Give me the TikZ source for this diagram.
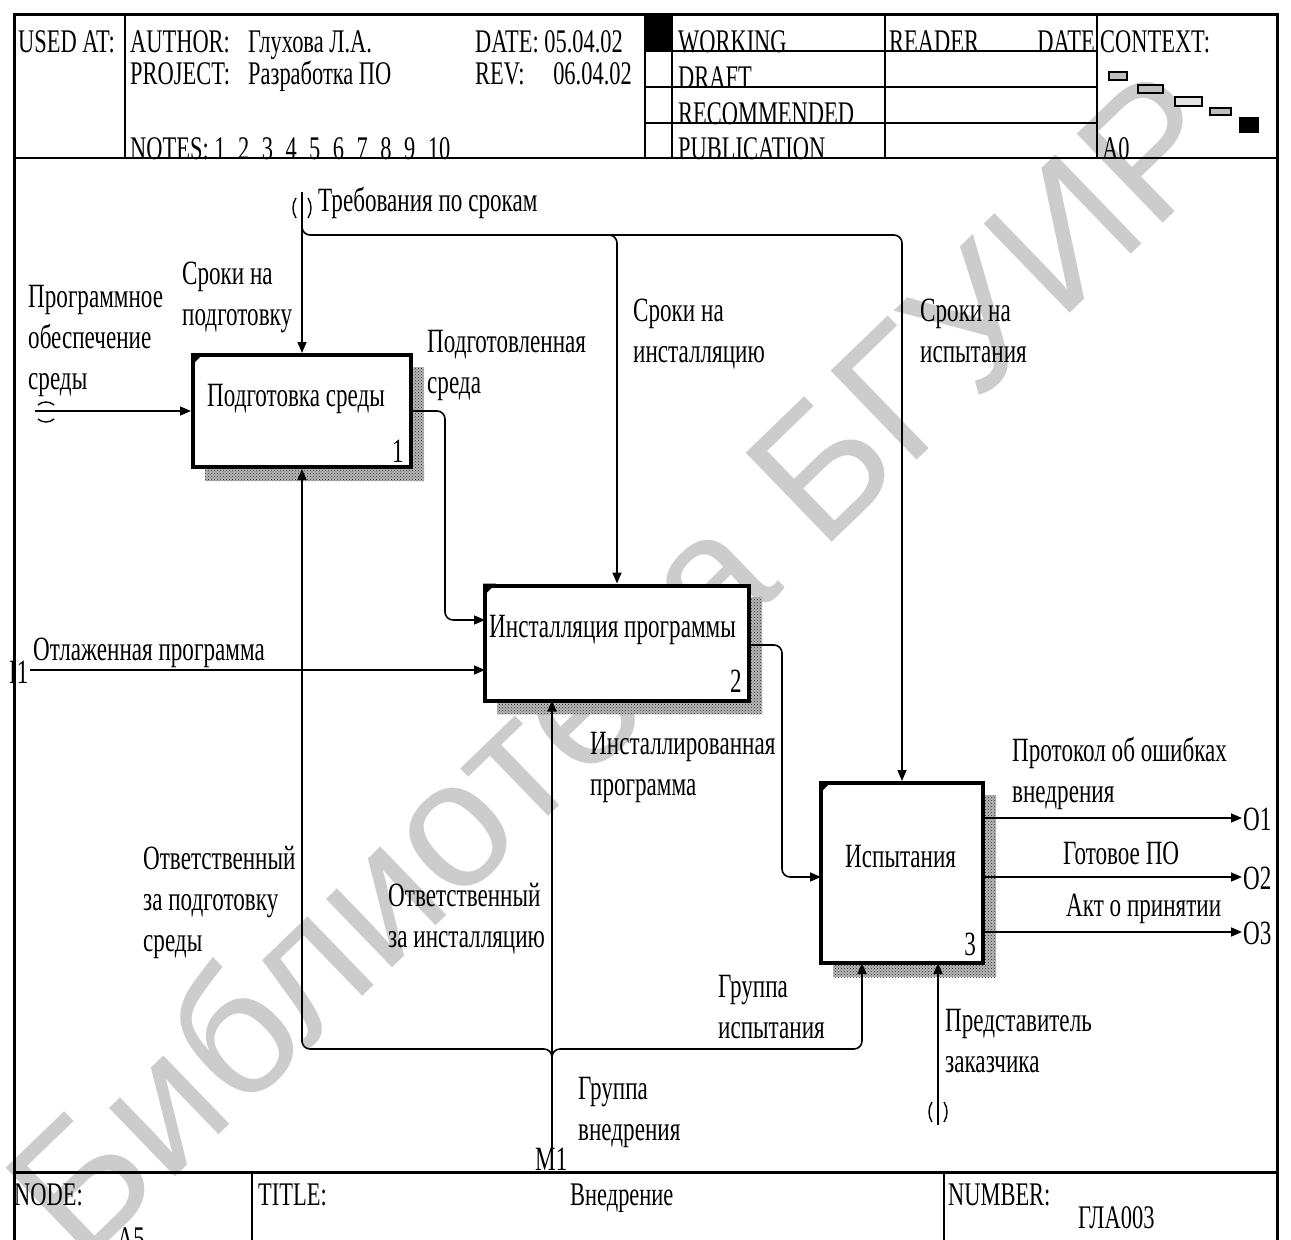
\documentclass[tikz,border=0pt]{standalone}
\usepackage{fontspec}
\setmainfont{Liberation Serif}[FakeStretch=0.68]
\newfontfamily\wmfont{Liberation Sans}
\usetikzlibrary{arrows.meta,patterns}
\newcommand\lblfont{\fontsize{34}{41}\selectfont}
\newcommand\hdrfont{\fontsize{33}{35}\selectfont}
\newcommand\nsp{\hspace{12.5pt}}
\begin{document}
\begin{tikzpicture}[x=1pt,y=-1pt,
  lbl/.style={anchor=base west,inner sep=0pt,align=left,font=\lblfont},
  hdr/.style={anchor=base west,inner sep=0pt,font=\hdrfont},
  idefbox/.style={draw,line width=4pt,fill=white,inner sep=0pt},
  conn/.style={line width=1.6pt,rounded corners=8pt},
  arr/.style={conn,-{Triangle[length=11pt,width=9pt]}},
  tunnel/.style={line width=1.4pt},
  shadowfill/.style={preaction={fill=black!28},pattern=crosshatch dots,pattern color=black!85},
  framel/.style={line width=2pt},
  wm/.style={font=\wmfont\fontsize{180}{180}\selectfont,text=black!20,rotate=44,inner sep=0pt}
]
\useasboundingbox (0,0) rectangle (1291,1240);
% watermark
\node[wm] (wmark) at (615,662) {Библиотека БГУИР};

% ---------- header texts ----------
\node[hdr] (usedat) at (18,52) {USED AT:};
\node[hdr] (author) at (130,52) {AUTHOR:};
\node[hdr] (authorv) at (248,52) {Глухова Л.А.};
\node[hdr] (project) at (130,84) {PROJECT:};
\node[hdr] (projectv) at (248,84) {Разработка ПО};
\node[hdr] (notes) at (130,159) {NOTES:\ 1\nsp2\nsp3\nsp4\nsp5\nsp6\nsp7\nsp8\nsp9\nsp10};
\node[hdr] (date) at (475,52) {DATE: 05.04.02};
\node[hdr] (rev) at (475,84) {REV:};
\node[hdr,anchor=base east] (revv) at (632,84) {06.04.02};
\node[hdr] (working) at (678,52) {WORKING};
\node[hdr] (draft) at (678,88) {DRAFT};
\node[hdr] (recom) at (678,124) {RECOMMENDED};
\node[hdr] (publ) at (678,159) {PUBLICATION};
\node[hdr] (reader) at (889,52) {READER};
\node[hdr,anchor=base east] (rdate) at (1095,52) {DATE};
\node[hdr] (context) at (1100,52) {CONTEXT:};
\node[hdr] (azero) at (1102,159) {A0};

% ---------- frame ----------
\draw[line width=3pt] (14,1240) -- (14,14) -- (1277,14) -- (1277,1240);
\draw[framel] (14,158) -- (1277,158);
\draw[framel] (125,14) -- (125,158);
\draw[framel] (645,14) -- (645,158);
\draw[framel] (672,14) -- (672,158);
\draw[framel] (885,14) -- (885,158);
\draw[framel] (1097,14) -- (1097,158);
\draw[framel] (645,51) -- (1097,51);
\draw[framel] (645,87) -- (1097,87);
\draw[framel] (645,123) -- (1097,123);
\fill (645,14) rectangle (672,51);
% context mini boxes
\draw[line width=1.5pt,fill=black!25] (1109,72) rectangle (1127,80);
\draw[line width=1.5pt,fill=black!25] (1138,85) rectangle (1163,93);
\draw[line width=1.5pt,fill=black!10] (1175,97) rectangle (1202,106);
\draw[line width=1.5pt,fill=black!25] (1210,108) rectangle (1231,115);
\fill (1239,117) rectangle (1259,133);

% footer
\draw[line width=3pt] (14,1172) -- (1277,1172);
\draw[framel] (252,1172) -- (252,1240);
\draw[framel] (944,1172) -- (944,1240);
\node[hdr] (nodet) at (14,1205) {NODE:};
\node[hdr] (nodev) at (117,1249) {A5};
\node[hdr] (titlet) at (258,1205) {TITLE:};
\node[hdr] (titlev) at (570,1205) {Внедрение};
\node[hdr] (numt) at (948,1205) {NUMBER:};
\node[hdr] (numv) at (1078,1228) {ГЛА003};

% ---------- shadows ----------
\fill[shadowfill] (411,367) rectangle (424,481);
\fill[shadowfill] (205,467) rectangle (424,481);
\fill[shadowfill] (749,597) rectangle (762,714);
\fill[shadowfill] (497,700) rectangle (762,714);
\fill[shadowfill] (983,795) rectangle (996,977);
\fill[shadowfill] (833,963) rectangle (996,977);

% ---------- boxes ----------
\node[idefbox,minimum width=218pt,minimum height=112pt] (b1) at (302,411) {};
\node[idefbox,minimum width=264pt,minimum height=115pt] (b2) at (617,643) {};
\node[idefbox,minimum width=162pt,minimum height=180pt] (b3) at (902,873) {};
\foreach \b in {b1,b2,b3}{
  \fill (\b.north west) -- ++(13,0) -- ++(-13,13) -- cycle;
}
\node[lbl] (b1t) at (207,406) {Подготовка среды};
\node[lbl] (b2t) at (489,637) {Инсталляция программы};
\node[lbl] (b3t) at (845,867) {Испытания};
\node[lbl,anchor=base east] (b1n) at (404,462) {1};
\node[lbl,anchor=base east] (b2n) at (742,692) {2};
\node[lbl,anchor=base east] (b3n) at (976,955) {3};

% ---------- coordinates ----------
\coordinate (ctop) at (302,192);
\coordinate (cbr) at (302,226);
\coordinate (c3c) at (902,235);
\coordinate (c2s) at (609,235);
\coordinate (iA) at (35,411);
\coordinate (b1ov) at (445,500);
\coordinate (b2i1) at (485,620);
\coordinate (i1) at (30,670);
\coordinate (b2i2) at (485,670);
\coordinate (b2o) at (749,645);
\coordinate (b2ov) at (782,760);
\coordinate (b3i) at (821,877);
\coordinate (b3o1) at (983,818);
\coordinate (b3o2) at (983,877);
\coordinate (b3o3) at (983,932);
\coordinate (o1) at (1242,818);
\coordinate (o2) at (1242,877);
\coordinate (o3) at (1242,932);
\coordinate (m1) at (552,1148);
\coordinate (b2m) at (552,700.5);
\coordinate (mbr) at (552,1058);
\coordinate (ml) at (302,1049);
\coordinate (mr) at (862,1049);
\coordinate (b3m1) at (862,963);
\coordinate (m2) at (938,1125);
\coordinate (b3m2) at (938,963);

% ---------- connectors ----------
\draw[arr] (ctop) -- (b1.north);
\draw[arr] (cbr) |- (c3c) -- (b3.north);
\draw[arr] (c2s) -| (b2.north);
\draw[arr] (iA) -- (b1.west);
\draw[arr] (b1.east) -| (b1ov) |- (b2i1);
\draw[arr] (i1) -- (b2i2);
\draw[arr] (b2o) -| (b2ov) |- (b3i);
\draw[arr] (b3o1) -- (o1);
\draw[arr] (b3o2) -- (o2);
\draw[arr] (b3o3) -- (o3);
\draw[arr] (m1) -- (b2m);
\draw[arr] (mbr) |- (ml) -- (b1.south);
\draw[arr] (mbr) |- (mr) -- (b3m1);
\draw[arr] (m2) -- (b3m2);

% tunnels
\draw[tunnel] (296,198) .. controls (292,204) and (292,212) .. (296,218);
\draw[tunnel] (308,198) .. controls (312,204) and (312,212) .. (308,218);
\draw[tunnel] (38,405) .. controls (42,401) and (50,401) .. (54,405);
\draw[tunnel] (38,419) .. controls (42,423) and (50,423) .. (54,419);
\draw[tunnel] (932,1102) .. controls (928,1108) and (928,1116) .. (932,1122);
\draw[tunnel] (944,1102) .. controls (948,1108) and (948,1116) .. (944,1122);

% ---------- labels (base = last line) ----------
\node[lbl] (lreq) at (318,211) {Требования по срокам};
\node[lbl] (lsp) at (182,325) {Сроки на\\подготовку};
\node[lbl] (lpo) at (28,389) {Программное\\обеспечение\\среды};
\node[lbl] (lps) at (427,393) {Подготовленная\\среда};
\node[lbl] (lsi) at (633,362) {Сроки на\\инсталляцию};
\node[lbl] (lsisp) at (920,362) {Сроки на\\испытания};
\node[lbl] (lop) at (33,660) {Отлаженная программа};
\node[lbl] (li1) at (9,683) {I1};
\node[lbl] (lip) at (590,795) {Инсталлированная\\программа};
\node[lbl] (lpr) at (1012,802) {Протокол об ошибках\\внедрения};
\node[lbl] (lgpo) at (1063,864) {Готовое ПО};
\node[lbl] (lakt) at (1066,916) {Акт о принятии};
\node[lbl] (lo1) at (1243,830) {O1};
\node[lbl] (lo2) at (1243,889) {O2};
\node[lbl] (lo3) at (1243,944) {O3};
\node[lbl] (lot1) at (143,951) {Ответственный\\за подготовку\\среды};
\node[lbl] (lot2) at (388,947) {Ответственный\\за инсталляцию};
\node[lbl] (lgi) at (718,1038) {Группа\\испытания};
\node[lbl] (lpz) at (945,1072) {Представитель\\заказчика};
\node[lbl] (lgv) at (578,1140) {Группа\\внедрения};
\node[lbl] (lm1) at (535,1170) {M1};
\end{tikzpicture}
\end{document}
